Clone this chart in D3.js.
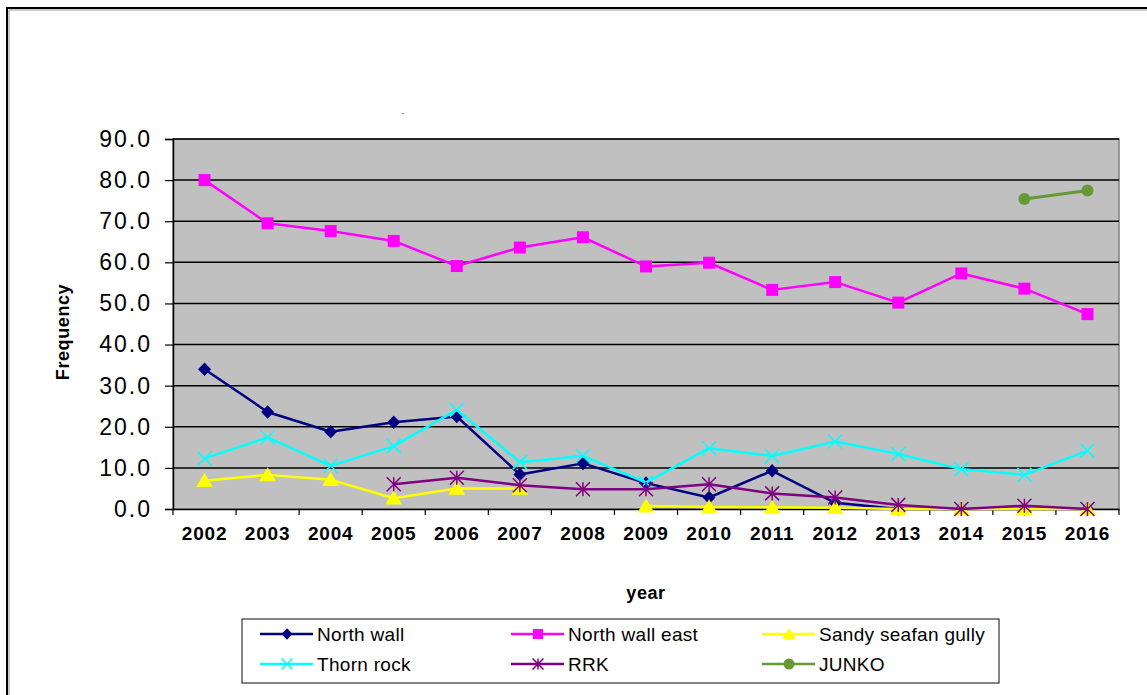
<!DOCTYPE html>
<html>
<head>
<meta charset="utf-8">
<script src="https://cdn.jsdelivr.net/npm/d3@7"></script>
<style>
  html, body { margin: 0; padding: 0; background: #fff; }
  svg { display: block; font-family: Arial, "Liberation Sans", sans-serif; }
</style>
</head>
<body>
<svg id="chart" width="1147" height="695"></svg>
<script>
// Survey years (category axis)
const years = ["2002","2003","2004","2005","2006","2007","2008","2009","2010","2011","2012","2013","2014","2015","2016"];

// Frequency per site and year (null = not surveyed)
const northWall      = [34.0, 23.6, 18.8, 21.1, 22.5, 8.4, 11.1, 6.3, 2.8, 9.3, 1.5, 0.0, 0.0, 0.0, 0.0];
const northWallEast  = [80.0, 69.5, 67.6, 65.2, 59.1, 63.6, 66.1, 59.0, 59.9, 53.3, 55.2, 50.2, 57.3, 53.6, 47.4];
const sandySeafan    = [6.9, 8.3, 7.1, 2.6, 5.0, 5.0, null, 0.7, 0.5, 0.4, 0.3, 0.0, 0.0, 0.0, 0.0];
const thornRock      = [12.3, 17.4, 10.5, 15.3, 24.1, 11.4, 12.9, 6.4, 14.8, 12.9, 16.4, 13.4, 9.7, 8.3, 14.2];
const rrk            = [null, null, null, 6.0, 7.6, 5.8, 4.8, 4.8, 6.0, 3.8, 2.8, 1.0, 0.0, 0.8, 0.0];
const junko          = [null, null, null, null, null, null, null, null, null, null, null, null, null, 75.4, 77.5];

// Value axis ticks
const yTicks = [0, 10, 20, 30, 40, 50, 60, 70, 80, 90];

const seriesNames = ["North wall", "North wall east", "Sandy seafan gully", "Thorn rock", "RRK", "JUNKO"];
const seriesValues = [northWall, northWallEast, sandySeafan, thornRock, rrk, junko];
const seriesColors = ["#000080", "#FF00FF", "#FFFF00", "#00FFFF", "#800080", "#669933"];
const seriesMarkers = ["diamond", "square", "triangle", "cross", "star", "circle"];

const svg = d3.select("#chart");

// Outer frame (top and left edges)
svg.append("line").attr("x1", 7).attr("x2", 1147).attr("y1", 8).attr("y2", 8).attr("stroke", "#000").attr("stroke-width", 2);
svg.append("line").attr("x1", 9).attr("x2", 1147).attr("y1", 10).attr("y2", 10).attr("stroke", "#999").attr("stroke-width", 1);
svg.append("line").attr("x1", 7).attr("x2", 7).attr("y1", 7).attr("y2", 695).attr("stroke", "#000").attr("stroke-width", 2);
svg.append("line").attr("x1", 9).attr("x2", 9).attr("y1", 10).attr("y2", 695).attr("stroke", "#999").attr("stroke-width", 1);

// Stray title remnant
svg.append("text").attr("x", 403).attr("y", 116).attr("text-anchor", "middle")
  .attr("font-size", 10).attr("fill", "#888").text("-");

const plot = { left: 173, right: 1119, top: 139, bottom: 509 };

const x = d3.scaleBand().domain(years).range([plot.left, plot.right]).padding(0);
const y = d3.scaleLinear().domain([0, 90]).range([plot.bottom, plot.top]);
const cx = d => x(d) + x.bandwidth() / 2;

// Plot area
svg.append("rect")
  .attr("x", plot.left).attr("y", plot.top)
  .attr("width", plot.right - plot.left).attr("height", plot.bottom - plot.top)
  .attr("fill", "#C0C0C0").attr("stroke", "#808080").attr("stroke-width", 1.5);

// Horizontal gridlines
svg.append("g").selectAll("line").data(yTicks.filter(t => t > 0)).join("line")
  .attr("x1", plot.left).attr("x2", plot.right)
  .attr("y1", d => y(d)).attr("y2", d => y(d))
  .attr("stroke", "#000").attr("stroke-width", 1.5);

// Y axis
const yAxis = svg.append("g").attr("transform", `translate(${plot.left},0)`)
  .call(d3.axisLeft(y).tickValues(yTicks).tickSize(8).tickPadding(13).tickFormat(d3.format(".1f")));
yAxis.select(".domain").attr("stroke", "#000").attr("stroke-width", 1.5);
yAxis.selectAll(".tick line").attr("stroke", "#000").attr("stroke-width", 1.2);
yAxis.selectAll(".tick text").attr("font-size", 23).attr("fill", "#000")
  .attr("font-family", "Arial, 'Liberation Sans', sans-serif").attr("letter-spacing", 2);

// X axis: labels centered in each category, ticks on category boundaries
const xAxis = svg.append("g").attr("transform", `translate(0,${plot.bottom})`)
  .call(d3.axisBottom(x).tickSize(0).tickPadding(18));
xAxis.select(".domain").attr("stroke", "#000").attr("stroke-width", 1.5);
xAxis.selectAll(".tick text").attr("font-size", 19).attr("font-weight", "bold").attr("fill", "#000")
  .attr("font-family", "Arial, 'Liberation Sans', sans-serif").attr("letter-spacing", 0.8);
const bounds = years.map(d => x(d)).concat([plot.right]);
svg.append("g").selectAll("line").data(bounds).join("line")
  .attr("x1", d => d).attr("x2", d => d)
  .attr("y1", plot.bottom).attr("y2", plot.bottom + 6)
  .attr("stroke", "#000").attr("stroke-width", 1.2);

// Axis titles
svg.append("text")
  .attr("transform", `translate(69,${(plot.top + plot.bottom) / 2 + 8}) rotate(-90)`)
  .attr("text-anchor", "middle").attr("font-size", 18).attr("font-weight", "bold")
  .attr("letter-spacing", 0.6).text("Frequency");
svg.append("text").attr("x", 646).attr("y", 599).attr("text-anchor", "middle")
  .attr("font-size", 18).attr("font-weight", "bold").attr("letter-spacing", 0.6).text("year");

// Marker drawing
function drawMarker(g, type, color, size) {
  const s = size;
  const h = s / 2;
  if (type === "diamond") {
    g.append("path").attr("d", `M0,${-h * 1.05}L${h},0L0,${h * 1.05}L${-h},0Z`).attr("fill", color);
  } else if (type === "square") {
    g.append("rect").attr("x", -h).attr("y", -h).attr("width", s).attr("height", s).attr("fill", color);
  } else if (type === "triangle") {
    g.append("path").attr("d", `M0,${-s * 0.55}L${s * 0.6},${s * 0.45}L${-s * 0.6},${s * 0.45}Z`).attr("fill", color);
  } else if (type === "cross") {
    g.append("path").attr("d", `M${-h},${-h}L${h},${h}M${-h},${h}L${h},${-h}`)
      .attr("stroke", color).attr("stroke-width", 1.5).attr("fill", "none");
  } else if (type === "star") {
    g.append("path").attr("d", `M${-h},${-h}L${h},${h}M${-h},${h}L${h},${-h}M0,${-h}L0,${h}`)
      .attr("stroke", color).attr("stroke-width", 1.5).attr("fill", "none");
  } else if (type === "circle") {
    g.append("circle").attr("r", h).attr("fill", color);
  }
}

const markerSizes = { diamond: 13, square: 12, triangle: 14, cross: 14, star: 14, circle: 12 };

const line = d3.line()
  .defined(d => d.v !== null)
  .x(d => cx(d.year))
  .y(d => y(d.v));

seriesNames.forEach((name, i) => {
  const pts = years.map((yr, j) => ({ year: yr, v: seriesValues[i][j] }));
  const g = svg.append("g");
  g.append("path").datum(pts).attr("d", line)
    .attr("fill", "none").attr("stroke", seriesColors[i]).attr("stroke-width", i === 5 ? 3 : 2.5)
    .attr("stroke-linejoin", "round");
  pts.filter(p => p.v !== null).forEach(p => {
    const m = g.append("g").attr("transform", `translate(${cx(p.year)},${y(p.v)})`);
    drawMarker(m, seriesMarkers[i], seriesColors[i], markerSizes[seriesMarkers[i]]);
  });
});

// Legend
const legend = svg.append("g");
legend.append("rect").attr("x", 242).attr("y", 619).attr("width", 757).attr("height", 64)
  .attr("fill", "#fff").attr("stroke", "#333").attr("stroke-width", 1.2);
const colX = [260, 511, 762];
const rowY = [634, 664];
seriesNames.forEach((name, i) => {
  const lx = colX[i % 3], ly = rowY[Math.floor(i / 3)];
  legend.append("line").attr("x1", lx).attr("x2", lx + 53).attr("y1", ly).attr("y2", ly)
    .attr("stroke", seriesColors[i]).attr("stroke-width", 2.5);
  const m = legend.append("g").attr("transform", `translate(${lx + 27},${ly})`);
  drawMarker(m, seriesMarkers[i], seriesColors[i], seriesMarkers[i] === "square" ? 10 : 11);
  legend.append("text").attr("x", lx + 57).attr("y", ly + 7).attr("font-size", 19)
    .attr("letter-spacing", 0.3).attr("fill", "#000").text(name);
});
</script>
</body>
</html>
